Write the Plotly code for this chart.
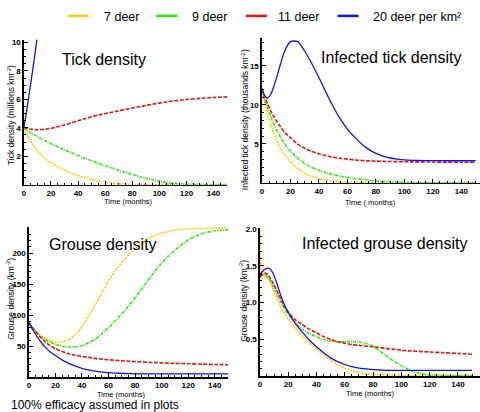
import plotly.graph_objects as go

# ---------------- data ----------------
T = [0, 2, 4, 6, 8, 10, 13, 16, 20, 25, 30, 35, 40, 45, 50, 55, 60, 65, 70, 75,
     80, 85, 90, 95, 100, 105, 110, 120, 130, 140, 150]

SERIES = ["7 deer", "9 deer", "11 deer", "20 deer per km²"]

# Tick density (millions km^-2)
TICK_7 = [4, 3.6, 3.25, 2.9, 2.6, 2.35, 2.05, 1.8, 1.55, 1.25, 1.02, 0.82, 0.65, 0.5, 0.37, 0.27,
          0.19, 0.12, 0.07, 0.04, 0.02, 0.01, 0.005, 0, 0, 0, 0, 0, 0, 0, 0]
TICK_9 = [4, 3.85, 3.72, 3.6, 3.5, 3.38, 3.22, 3.07, 2.88, 2.67, 2.45, 2.25, 2.05, 1.86, 1.68, 1.5,
          1.33, 1.17, 1.01, 0.86, 0.72, 0.58, 0.46, 0.35, 0.25, 0.16, 0.09, 0.03, 0.01, 0, 0]
TICK_11 = [4.05, 3.97, 3.92, 3.89, 3.87, 3.87, 3.88, 3.91, 3.97, 4.07, 4.2, 4.35, 4.5, 4.64, 4.78,
           4.9, 5.0, 5.1, 5.2, 5.3, 5.39, 5.48, 5.57, 5.66, 5.74, 5.82, 5.89, 5.99, 6.07, 6.13, 6.18]
TICK_20 = [4, 5.2, 6.45, 7.75, 9.1, 10.5, 12.7] + [None] * 24

# Infected tick density (thousands km^-2)
ITICK_7 = [12, 10.3, 8.8, 7.6, 6.5, 5.6, 4.5, 3.6, 2.7, 1.85, 1.25, 0.85, 0.57, 0.38, 0.25, 0.16,
           0.1, 0.06, 0.04, 0.02, 0.01, 0, 0, 0, 0, 0, 0, 0, 0, 0, 0]
ITICK_9 = [12, 10.7, 9.6, 8.6, 7.7, 6.9, 5.9, 5.0, 4.1, 3.2, 2.5, 2.0, 1.62, 1.32, 1.08, 0.88,
           0.72, 0.58, 0.46, 0.36, 0.28, 0.21, 0.15, 0.1, 0.07, 0.04, 0.02, 0.01, 0, 0, 0]
ITICK_11 = [12, 11, 10.1, 9.3, 8.6, 8.0, 7.2, 6.5, 5.8, 5.0, 4.45, 4.05, 3.75, 3.5, 3.3, 3.15,
            3.05, 2.95, 2.88, 2.83, 2.8, 2.77, 2.75, 2.73, 2.72, 2.7, 2.7, 2.68, 2.67, 2.66, 2.65]
ITICK_20 = [12.1, 11.2, 10.85, 11.3, 12.2, 13.3, 15.2, 16.9, 18.1, 18.1, 16.9, 15.3, 13.5, 11.6,
            9.8, 8.2, 6.9, 5.9, 5.0, 4.3, 3.8, 3.45, 3.2, 3.05, 2.95, 2.9, 2.88, 2.86, 2.85, 2.85, 2.85]

# Grouse density (km^-2)
GROUSE_7 = [88, 82, 77, 72.5, 69, 66, 62, 59, 57, 57, 60.5, 69, 82, 98, 117, 136, 155, 171, 185,
            197, 207, 216, 223, 228.5, 232.5, 235, 237, 239, 240, 240.5, 241]
GROUSE_9 = [88, 82, 76.5, 72, 68, 64.5, 60, 56.5, 53, 50, 48.8, 49, 51, 55.5, 62, 70, 80, 90.5,
            102, 115, 128, 142, 157, 171, 184, 195, 205, 221, 231, 236, 238]
GROUSE_11 = [88, 82, 76, 71, 66, 62, 56, 51, 46, 41.5, 38, 35.5, 33.5, 32, 30.5, 29.2, 28.2, 27.3,
             26.5, 25.8, 25.2, 24.6, 24.1, 23.6, 23.2, 22.8, 22.4, 21.8, 21.2, 20.6, 20.2]
GROUSE_20 = [88, 80, 73, 66, 60, 54, 47, 41, 35, 28, 22.5, 18, 14.5, 11.8, 9.8, 8.4, 7.4, 6.7,
             6.2, 5.9, 5.6, 5.5, 5.4, 5.35, 5.3, 5.3, 5.3, 5.3, 5.3, 5.3, 5.3]

# Infected grouse density (km^-2)
IGROUSE_7 = [2.0, 1.37, 1.37, 1.32, 1.24, 1.15, 1.02, 0.9, 0.78, 0.65, 0.54, 0.45, 0.37, 0.29,
             0.22, 0.16, 0.11, 0.075, 0.05, 0.035, 0.025, 0.02, 0.015, 0.012, 0.01, 0.01, 0.01,
             0.01, 0.01, 0.01, 0.01]
IGROUSE_9 = [1.35, 1.38, 1.38, 1.34, 1.27, 1.19, 1.07, 0.96, 0.84, 0.73, 0.64, 0.58, 0.54, 0.5,
             0.48, 0.47, 0.47, 0.47, 0.465, 0.445, 0.41, 0.34, 0.27, 0.2, 0.145, 0.095, 0.055,
             0.018, 0.01, 0.01, 0.01]
IGROUSE_11 = [1.35, 1.39, 1.4, 1.37, 1.31, 1.24, 1.12, 1.0, 0.87, 0.77, 0.7, 0.64, 0.59, 0.54,
              0.5, 0.47, 0.45, 0.43, 0.42, 0.41, 0.4, 0.39, 0.375, 0.365, 0.355, 0.345, 0.34,
              0.33, 0.32, 0.31, 0.3]
IGROUSE_20 = [1.37, 1.43, 1.46, 1.47, 1.44, 1.37, 1.2, 1.03, 0.87, 0.72, 0.6, 0.49, 0.4, 0.32,
              0.25, 0.2, 0.16, 0.13, 0.11, 0.1, 0.09, 0.085, 0.08, 0.08, 0.08, 0.08, 0.08, 0.08,
              0.08, 0.08, 0.08]

TITLES = ["Tick density", "Infected tick density", "Grouse density", "Infected grouse density"]
Y_TITLES = ["Tick density (millions km<sup>-2</sup>)",
            "Infected tick density (thousands km<sup>-2</sup>)",
            "Grouse density (km<sup>-2</sup>)",
            "Grouse density (km<sup>-2</sup>)"]
X_TITLES = ["Time (months)", "Time ( months)", "Time (months)", "Time (months)"]
NOTE = "100% efficacy assumed in plots"

X_TICKS = [0, 20, 40, 60, 80, 100, 120, 140]
Y_TICKS = [[2, 4, 6, 8, 10], [5, 10, 15], [50, 100, 150, 200], [0.5, 1.0, 1.5, 2.0]]
Y_TICKTEXT = [["2", "4", "6", "8", "10"], ["5", "10", "15"], ["50", "100", "150", "200"],
              ["0.5", "1.0", "1.5", "2.0"]]

# ---------------- styling ----------------
W, H = 480, 412
COLORS = ["#FFCC00", "#22EE00", "#EE1111", "#1111EE"]
DASHES = ["2px,1px", "3px,1px,1px,1px", "4px,1.5px", "solid"]
WIDTHS = [1.6, 1.6, 1.6, 1.3]
FONT = "Liberation Sans, Arial, sans-serif"

# panels: (x0px, x1px, xmax, ybottom px, ytop px, ymax, minor y dtick)
PANELS = [
    (22, 226, 150, 183, 37, 10.2, 0.5),
    (261, 480, 153.1, 181.3, 35, 18.6, 1),
    (27, 227, 150, 377, 226, 241.6, 10),
    (259, 480, 155.6, 376, 227, 2.01, 0.1),
]
DATA = [
    [TICK_7, TICK_9, TICK_11, TICK_20],
    [ITICK_7, ITICK_9, ITICK_11, ITICK_20],
    [GROUSE_7, GROUSE_9, GROUSE_11, GROUSE_20],
    [IGROUSE_7, IGROUSE_9, IGROUSE_11, IGROUSE_20],
]

fig = go.Figure()
layout = dict(width=W, height=H, margin=dict(l=0, r=0, t=0, b=0),
              paper_bgcolor="white", plot_bgcolor="white", showlegend=False,
              font=dict(family=FONT, color="black"))

tickfont = dict(family=FONT, size=8, color="black", weight="bold")

for i, (x0, x1, xmax, yb, yt, ymax, ymin_dt) in enumerate(PANELS):
    n = "" if i == 0 else str(i + 1)
    common = dict(showline=True, linecolor="black", linewidth=1.5, ticks="inside",
                  ticklen=4, tickwidth=1, tickcolor="black", showgrid=False, zeroline=False,
                  tickfont=tickfont, fixedrange=True)
    layout["xaxis" + n] = dict(domain=[x0 / W, x1 / W], range=[0, xmax], anchor="y" + n,
                               tickvals=X_TICKS, ticktext=[str(v) for v in X_TICKS],
                               minor=dict(ticks="inside", ticklen=2, tickcolor="black", dtick=5, tick0=0),
                               **common)
    layout["yaxis" + n] = dict(domain=[1 - yb / H, 1 - yt / H], range=[0, ymax], anchor="x" + n,
                               tickvals=Y_TICKS[i], ticktext=Y_TICKTEXT[i],
                               minor=dict(ticks="inside", ticklen=2, tickcolor="black", dtick=ymin_dt, tick0=0),
                               **common)
    for k, ys in enumerate(DATA[i]):
        fig.add_trace(go.Scatter(
            x=T, y=ys, mode="lines", name=SERIES[k], xaxis="x" + n, yaxis="y" + n,
            line=dict(color=COLORS[k], width=WIDTHS[k], dash=DASHES[k], shape="spline", smoothing=0.8),
            hoverinfo="skip", cliponaxis=True))

ann = []
# panel titles
for txt, (cx, cy) in zip(TITLES, [(102, 57), (391, 55), (101, 243), (384, 242)]):
    ann.append(dict(text=txt, x=cx / W, y=1 - cy / H, xref="paper", yref="paper",
                    xanchor="center", yanchor="middle", showarrow=False,
                    font=dict(family=FONT, size=16, color="black")))
# x titles
for txt, (cx, cy) in zip(X_TITLES, [(127, 200), (370, 201), (120, 394), (370, 393)]):
    ann.append(dict(text=txt, x=cx / W, y=1 - cy / H, xref="paper", yref="paper",
                    xanchor="center", yanchor="middle", showarrow=False,
                    font=dict(family=FONT, size=7.5, color="black")))
# y titles
for txt, (cx, cy) in zip(Y_TITLES, [(9, 113), (244, 117), (9, 298), (243, 300)]):
    ann.append(dict(text=txt, x=cx / W, y=1 - cy / H, xref="paper", yref="paper",
                    xanchor="center", yanchor="middle", showarrow=False, textangle=-90,
                    font=dict(family=FONT, size=8.5, color="black")))
# note
ann.append(dict(text=NOTE, x=7 / W, y=1 - 405 / H, xref="paper", yref="paper",
                xanchor="left", yanchor="middle", showarrow=False,
                font=dict(family=FONT, size=12, color="black")))

# legend key
shapes = []
for k, (lx0, lx1, tx) in enumerate([(66, 87, 100), (155, 176, 189), (245, 266, 275), (337, 358, 371)]):
    shapes.append(dict(type="line", xref="paper", yref="paper", x0=lx0 / W, x1=lx1 / W,
                       y0=1 - 13 / H, y1=1 - 13 / H, line=dict(color=COLORS[k], width=2.5)))
    ann.append(dict(text=SERIES[k], x=tx / W, y=1 - 14 / H, xref="paper", yref="paper",
                    xanchor="left", yanchor="middle", showarrow=False,
                    font=dict(family=FONT, size=12.5, color="black")))

layout["annotations"] = ann
layout["shapes"] = shapes
fig.update_layout(**layout)
fig.write_html("out.html", config={"displayModeBar": False, "staticPlot": True},
               post_script="document.body.style.margin='0';document.body.style.padding='0';")
